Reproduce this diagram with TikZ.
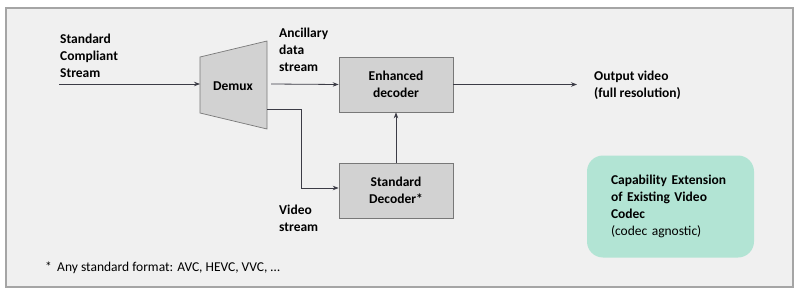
\documentclass[tikz,border=0pt]{standalone}
\usepackage{fontspec}
\setmainfont{Carlito}
\usetikzlibrary{arrows.meta, positioning, calc}
\definecolor{bggray}{RGB}{240,240,240}
\definecolor{framegray}{RGB}{165,165,165}
\definecolor{boxgray}{RGB}{210,210,210}
\definecolor{edgegray}{RGB}{120,120,120}
\definecolor{mydark}{RGB}{60,60,70}
\definecolor{capgreen}{RGB}{178,228,212}
\newcommand{\diafont}{\fontsize{13.5}{17}\selectfont}
\tikzset{
  block/.style={rectangle, draw=edgegray, fill=boxgray,
    minimum width=114pt, minimum height=55pt, align=center,
    font=\diafont\bfseries, line width=0.7pt},
  capblock/.style={rectangle, fill=capgreen, rounded corners=16pt,
    text width=119pt, inner xsep=24pt, minimum height=102pt, align=left,
    font=\diafont},
  lbl/.style={align=left, font=\diafont\bfseries, inner sep=0pt},
  arrow/.style={-{Stealth[length=6pt,width=4.5pt]}, line width=0.8pt, color=mydark},
  line/.style={line width=0.8pt, color=mydark}
}

\begin{document}
\begin{tikzpicture}[x=1pt, y=-1pt, font=\diafont]
  \useasboundingbox (0,0) rectangle (800,294);
  \draw[framegray, fill=bggray, line width=1.2pt] (6,8) rectangle (793,287);

  % Demux
  \coordinate (dmx1) at (200,57);
  \coordinate (dmx2) at (267,41);
  \coordinate (dmx3) at (267,129);
  \coordinate (dmx4) at (200,113);
  \draw[edgegray, fill=boxgray, line width=0.7pt] (dmx1) -- (dmx2) -- (dmx3) -- (dmx4) -- cycle;
  \node[font=\diafont\bfseries] (demux) at (233,86) {Demux};
  \coordinate (dmxin) at (200,84);
  \coordinate (anc) at (271,84);
  \coordinate (vid) at (267,109);

  % Decoders
  \node[block] (enh) at (396,84.5) {Enhanced\\decoder};
  \node[block] (std) at (396,190.5) {Standard\\Decoder*};

  % Input and output
  \coordinate (src) at (59,84);
  \node[lbl, anchor=south west] (srclbl) at (60,78) {Standard\\Compliant\\Stream};
  \node[lbl, anchor=west, inner xsep=17pt] (out) at (577,85.5) {Output video\\(full resolution)};

  % Stream labels
  \node[lbl, anchor=south west] (anclbl) at (279,72) {Ancillary\\data\\stream};
  \node[lbl, anchor=north west] (vidlbl) at (279,205) {Video\\stream};

  % Capability box
  \node[capblock] (cap) at (670.5,206.5) {\textbf{Capability Extension of Existing Video Codec}\\(codec agnostic)};

  % Footnote
  \node[anchor=west, inner sep=0pt] (note) at (45,268) {*\ \,Any standard format: AVC, HEVC, VVC, \dots};

  % Connections
  \draw[arrow] (src) -- (dmxin);
  \draw[arrow] (anc) -- (enh.west);
  \draw[arrow] (vid) -- ++(34,0) |- ([yshift=2.5pt]std.west);
  \draw[arrow] (std) -- (enh);
  \draw[arrow] (enh.east) -- (enh.east -| out.west);
\end{tikzpicture}
\end{document}
